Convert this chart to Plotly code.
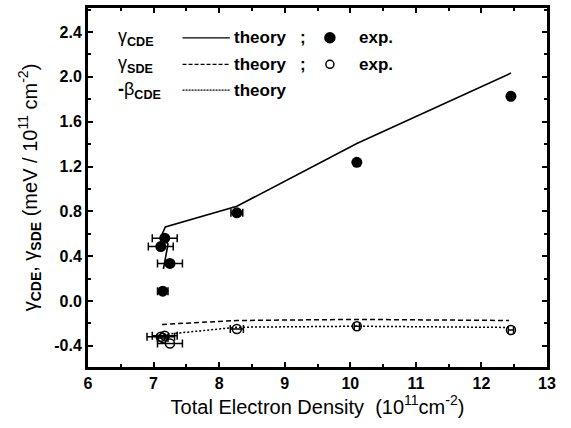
import plotly.graph_objects as go

# Experimental data (gamma_CDE, filled)
cde_x = [7.17, 7.11, 7.25, 7.14, 8.27, 10.1, 12.45]
cde_y = [0.56, 0.485, 0.335, 0.087, 0.786, 1.237, 1.827]
cde_err = [0.19, 0.19, 0.19, 0.08, 0.09, 0.03, 0.03]

# Experimental data (gamma_SDE, open)
sde_x = [7.17, 7.11, 7.25, 7.14, 8.27, 10.1, 12.45]
sde_y = [-0.31, -0.32, -0.38, -0.33, -0.25, -0.226, -0.26]
sde_err = [0.19, 0.21, 0.19, 0.08, 0.10, 0.04, 0.04]

# Theory curves
th_cde_x = [7.15, 7.22, 7.13, 7.18, 8.27, 10.1, 12.45]
th_cde_y = [0.285, 0.506, 0.595, 0.66, 0.845, 1.405, 2.034]
th_sde_x = [7.13, 8.27, 10.1, 12.42]
th_sde_y = [-0.21, -0.175, -0.165, -0.175]
th_beta_x = [7.15, 8.27, 10.1, 12.45]
th_beta_y = [-0.30, -0.235, -0.226, -0.237]

x_ticks = [6, 7, 8, 9, 10, 11, 12, 13]
y_ticks = [-0.4, 0.0, 0.4, 0.8, 1.2, 1.6, 2.0, 2.4]

FONT = "Liberation Sans, Arial, sans-serif"

fig = go.Figure()
fig.add_trace(go.Scatter(x=th_cde_x, y=th_cde_y, mode="lines",
                         line=dict(color="black", width=1.6)))
fig.add_trace(go.Scatter(x=th_sde_x, y=th_sde_y, mode="lines",
                         line=dict(color="black", width=1.5, dash="5px,3px")))
fig.add_trace(go.Scatter(x=th_beta_x, y=th_beta_y, mode="lines",
                         line=dict(color="black", width=1.5, dash="2px,2px")))
fig.add_trace(go.Scatter(x=cde_x, y=cde_y, mode="markers",
                         marker=dict(symbol="circle", size=11, color="black"),
                         error_x=dict(type="data", array=cde_err, color="black",
                                      thickness=1.5, width=4)))
fig.add_trace(go.Scatter(x=sde_x, y=sde_y, mode="markers",
                         marker=dict(symbol="circle-open", size=9, color="black",
                                     line=dict(width=1.5)),
                         error_x=dict(type="data", array=sde_err, color="black",
                                      thickness=1.5, width=4)))

# Legend drawn inside plot
rows = [0.917, 0.843, 0.771]
labels = ["γ<sub><b>CDE</b></sub>", "γ<sub><b>SDE</b></sub>", "<b>-</b>β<sub><b>CDE</b></sub>"]
dashes = ["solid", "4px,2px", "2px,1px"]
annots = []
shapes = []
for r, lab, d in zip(rows, labels, dashes):
    annots.append(dict(x=0.062, y=r, xref="paper", yref="paper", text=lab,
                       showarrow=False, xanchor="left", yanchor="middle",
                       font=dict(family=FONT, size=18, color="black")))
    shapes.append(dict(type="line", xref="paper", yref="paper",
                       x0=0.206, x1=0.309, y0=r, y1=r,
                       line=dict(color="black", width=1.2, dash=d)))
    annots.append(dict(x=0.313, y=r, xref="paper", yref="paper", text="<b>theory</b>",
                       showarrow=False, xanchor="left", yanchor="middle",
                       font=dict(family=FONT, size=17, color="black")))
for r, sym in zip(rows[:2], ["fill", "open"]):
    annots.append(dict(x=0.468, y=r, xref="paper", yref="paper", text="<b>;</b>",
                       showarrow=False, xanchor="center", yanchor="middle",
                       font=dict(family=FONT, size=17, color="black")))
    shapes.append(dict(type="circle", xref="paper", yref="paper",
                       xsizemode="pixel", ysizemode="pixel",
                       xanchor=0.527, yanchor=r,
                       x0=-5 if sym == "fill" else -4, x1=5 if sym == "fill" else 4,
                       y0=-5 if sym == "fill" else -4, y1=5 if sym == "fill" else 4,
                       fillcolor="black" if sym == "fill" else "white",
                       line=dict(color="black", width=1.5)))
    annots.append(dict(x=0.586, y=r, xref="paper", yref="paper", text="<b>exp.</b>",
                       showarrow=False, xanchor="left", yanchor="middle",
                       font=dict(family=FONT, size=17, color="black")))

axis_common = dict(showline=True, linecolor="black", linewidth=3, mirror="allticks",
                   ticks="inside", ticklen=5, tickwidth=2, tickcolor="black",
                   showgrid=False, zeroline=False,
                   tickfont=dict(family=FONT, size=16, color="black"))

fig.update_layout(
    width=571, height=428,
    margin=dict(l=88, r=24, t=5, b=61),
    paper_bgcolor="white", plot_bgcolor="white",
    showlegend=False,
    annotations=annots, shapes=shapes,
    xaxis=dict(range=[6, 13], tickvals=x_ticks,
               ticktext=[f"<b>{v}</b>" for v in x_ticks],
               minor=dict(dtick=0.5, ticks="inside", ticklen=3, tickwidth=2, tickcolor="black"),
               title=dict(text="Total Electron Density  (10<sup>11</sup>cm<sup>-2</sup>)",
                          font=dict(family=FONT, size=20, color="black"), standoff=8),
               **axis_common),
    yaxis=dict(range=[-0.59, 2.615], tickvals=y_ticks,
               ticktext=[f"<b>{v:.1f}</b>" for v in y_ticks],
               minor=dict(dtick=0.2, tick0=0, ticks="inside", ticklen=3, tickwidth=2, tickcolor="black"),
               title=dict(text="γ<sub><b>CDE</b></sub>, γ<sub><b>SDE</b></sub> (meV / 10<sup>11</sup> cm<sup>-2</sup>)",
                          font=dict(family=FONT, size=20, color="black"), standoff=12),
               **axis_common),
)

fig.write_html("out.html")
